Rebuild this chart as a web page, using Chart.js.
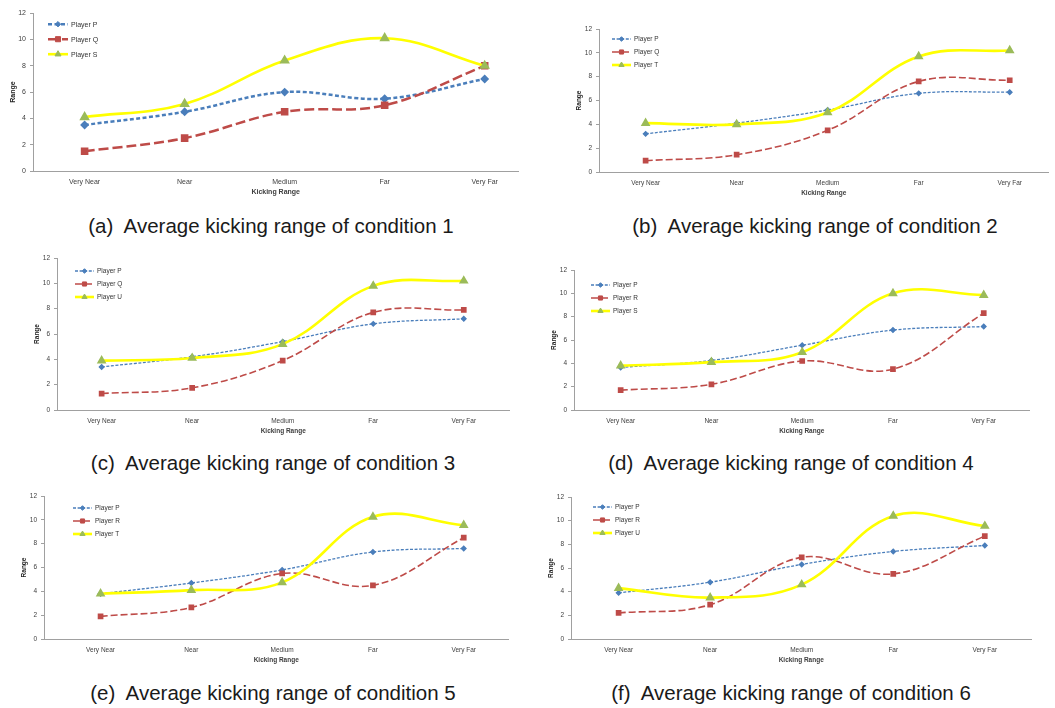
<!DOCTYPE html>
<html>
<head>
<meta charset="utf-8">
<script src="https://cdn.jsdelivr.net/npm/chart.js@4.4.1/dist/chart.umd.min.js"></script>
<style>
  body { margin: 0; background: #fff; width: 1055px; height: 708px; position: relative; overflow: hidden; }
  canvas { position: absolute; }
  .cap { position: absolute; font-family: "Liberation Sans", Arial, sans-serif; font-size: 20.5px; color: #1a1a1a;
         white-space: pre; transform: translate(-50%, -50%); }
</style>
</head>
<body>
<script>
// x categories shared by all six panels
const categories = ['Very Near', 'Near', 'Medium', 'Far', 'Very Far'];
const yMin = 0, yMax = 12, yStep = 2;

// condition 1
const c1Players = ['Player P', 'Player Q', 'Player S'];
const c1P = [3.5, 4.5, 6.0, 5.5, 7.0];
const c1Q = [1.5, 2.5, 4.5, 5.0, 8.0];
const c1S = [4.1, 5.1, 8.4, 10.1, 8.0];

// condition 2
const c2Players = ['Player P', 'Player Q', 'Player T'];
const c2P = [3.2, 4.1, 5.2, 6.6, 6.7];
const c2Q = [0.95, 1.45, 3.5, 7.6, 7.7];
const c2T = [4.1, 4.0, 5.0, 9.7, 10.2];

// condition 3
const c3Players = ['Player P', 'Player Q', 'Player U'];
const c3P = [3.4, 4.2, 5.4, 6.8, 7.2];
const c3Q = [1.3, 1.75, 3.9, 7.7, 7.9];
const c3U = [3.9, 4.1, 5.2, 9.8, 10.2];

// condition 4
const c4Players = ['Player P', 'Player R', 'Player S'];
const c4P = [3.65, 4.25, 5.55, 6.85, 7.15];
const c4R = [1.7, 2.2, 4.2, 3.5, 8.3];
const c4S = [3.8, 4.1, 4.95, 10.0, 9.85];

// condition 5
const c5Players = ['Player P', 'Player R', 'Player T'];
const c5P = [3.8, 4.7, 5.8, 7.3, 7.6];
const c5R = [1.9, 2.65, 5.5, 4.5, 8.5];
const c5T = [3.8, 4.1, 4.75, 10.25, 9.55];

// condition 6
const c6Players = ['Player P', 'Player R', 'Player U'];
const c6P = [3.9, 4.8, 6.3, 7.4, 7.9];
const c6R = [2.2, 2.9, 6.9, 5.5, 8.7];
const c6U = [4.3, 3.5, 4.6, 10.4, 9.55];

const captions = [
  '(a)  Average kicking range of condition 1',
  '(b)  Average kicking range of condition 2',
  '(c)  Average kicking range of condition 3',
  '(d)  Average kicking range of condition 4',
  '(e)  Average kicking range of condition 5',
  '(f)  Average kicking range of condition 6'
];

// plot box of each panel (axis left, value-12 top, value-0 bottom, axis right),
// x range in category units, legend spot, caption centre
const panels = [
  { names: c1Players, series: [c1P, c1Q, c1S], ax: 33, ty: 13, by: 171, rx: 522, xr: [-0.516, 4.337], lx: 15, ly: 11, lgap: 15, big: true, cx: 271, cy: 226 },
  { names: c2Players, series: [c2P, c2Q, c2T], ax: 599, ty: 29, by: 172, rx: 1052, xr: [-0.512, 4.425], lx: 13, ly: 10, lgap: 13, big: false, cx: 815, cy: 226 },
  { names: c3Players, series: [c3P, c3Q, c3U], ax: 57, ty: 258, by: 410, rx: 513, xr: [-0.493, 4.504], lx: 18, ly: 13, lgap: 13, big: false, cx: 273, cy: 463 },
  { names: c4Players, series: [c4P, c4R, c4S], ax: 574, ty: 270, by: 410, rx: 1033, xr: [-0.514, 4.503], lx: 17, ly: 15, lgap: 13, big: false, cx: 791, cy: 463 },
  { names: c5Players, series: [c5P, c5R, c5T], ax: 44, ty: 496, by: 639, rx: 512, xr: [-0.623, 4.492], lx: 29, ly: 12, lgap: 13, big: false, cx: 273, cy: 693 },
  { names: c6Players, series: [c6P, c6R, c6U], ax: 571, ty: 497, by: 639, rx: 1035, xr: [-0.520, 4.509], lx: 22, ly: 10, lgap: 13, big: false, cx: 791, cy: 693 }
];

const BLUE = '#4a7ebb', RED = '#be4b48', YELLOW = '#ffff00', GREEN = '#9bbb59';
const FONT = '"Liberation Sans", Arial, sans-serif';
const L = 32, T = 8, R = 3, B = 30;

// legend drawn inside the plot: line sample with marker, then the name
const playerLegend = {
  id: 'playerLegend',
  afterDraw(chart, args, opts) {
    const ctx = chart.ctx;
    const area = chart.chartArea;
    chart.data.datasets.forEach((ds, i) => {
      const x = area.left + opts.x;
      const y = area.top + opts.y + i * opts.gap;
      ctx.save();
      ctx.strokeStyle = ds.borderColor;
      ctx.lineWidth = ds.borderWidth;
      ctx.setLineDash(ds.borderDash || []);
      ctx.beginPath();
      ctx.moveTo(x, y);
      ctx.lineTo(x + opts.len, y);
      ctx.stroke();
      ctx.setLineDash([]);
      ctx.fillStyle = ds.pointBackgroundColor;
      ctx.strokeStyle = ds.pointBorderColor;
      ctx.lineWidth = 1;
      Chart.helpers.drawPoint(ctx, { pointStyle: ds.pointStyle, radius: ds.pointRadius, rotation: 0, borderWidth: 1 }, x + opts.len / 2, y);
      ctx.fillStyle = '#333';
      ctx.font = opts.fontSize + 'px ' + FONT;
      ctx.textBaseline = 'middle';
      ctx.textAlign = 'left';
      ctx.fillText(ds.label, x + opts.len + 3, y + 0.5);
      ctx.restore();
    });
  }
};

panels.forEach((p, idx) => {
  const canvas = document.createElement('canvas');
  const w = p.rx - p.ax + L + R;
  const h = p.by - p.ty + T + B;
  canvas.width = w;
  canvas.height = h;
  canvas.style.left = (p.ax - L) + 'px';
  canvas.style.top = (p.ty - T) + 'px';
  document.body.appendChild(canvas);

  const fs = p.big ? 7 : 6.5;
  const k = p.big ? 1 : 0;
  const tickFont = { family: FONT, size: fs };
  const titleFont = { family: FONT, size: fs, weight: 'bold' };
  const pts = arr => arr.map((v, i) => ({ x: i, y: v }));

  const datasets = [
    {
      label: p.names[0], data: pts(p.series[0]), order: 3,
      borderColor: BLUE, borderWidth: k ? 2.5 : 1.3, borderDash: k ? [4, 2.5] : [3, 1.6],
      pointStyle: 'rectRot', pointRadius: k ? 2.7 : 2.3,
      pointBackgroundColor: BLUE, pointBorderColor: BLUE
    },
    {
      label: p.names[1], data: pts(p.series[1]), order: 2,
      borderColor: RED, borderWidth: k ? 2.5 : 1.6, borderDash: k ? [10, 4] : [7, 3],
      pointStyle: 'rect', pointRadius: k ? 3.6 : 2.9,
      pointBackgroundColor: RED, pointBorderColor: RED
    },
    {
      label: p.names[2], data: pts(p.series[2]), order: 1,
      borderColor: YELLOW, borderWidth: 2.6,
      pointStyle: 'triangle', pointRadius: k ? 3.5 : 3.0,
      pointBackgroundColor: GREEN, pointBorderColor: GREEN
    }
  ];

  new Chart(canvas, {
    type: 'line',
    data: { datasets: datasets },
    options: {
      responsive: false,
      animation: false,
      devicePixelRatio: 1,
      layout: { padding: { top: T, right: R, left: 0, bottom: 0 } },
      elements: { line: { tension: 0.38, fill: false } },
      plugins: {
        legend: { display: false },
        tooltip: { enabled: false },
        playerLegend: { x: p.lx, y: p.ly, gap: p.lgap, len: k ? 20 : 19, fontSize: fs }
      },
      scales: {
        x: {
          type: 'linear',
          min: p.xr[0], max: p.xr[1],
          afterBuildTicks(s) { s.ticks = categories.map((c, i) => ({ value: i })); },
          grid: { display: false, drawTicks: false },
          border: { display: true, color: '#a0a0a0', width: 1 },
          ticks: { color: '#404040', font: tickFont, padding: 7, maxRotation: 0, autoSkip: false,
                   callback: v => categories[v] },
          title: { display: true, text: 'Kicking Range', color: '#404040', font: titleFont, padding: { top: 0, bottom: 4.5 } },
          afterFit(s) { s.height = B; }
        },
        y: {
          min: yMin, max: yMax,
          grid: { drawOnChartArea: false, drawTicks: true, tickLength: 3, color: '#a0a0a0' },
          border: { display: true, color: '#a0a0a0', width: 1 },
          ticks: { stepSize: yStep, color: '#404040', font: tickFont, padding: 4 },
          title: { display: true, text: 'Range', color: '#222', font: titleFont, padding: { top: 8, bottom: 0 } },
          afterFit(s) { s.width = L; }
        }
      }
    },
    plugins: [playerLegend]
  });

  const cap = document.createElement('div');
  cap.className = 'cap';
  cap.textContent = captions[idx];
  cap.style.left = p.cx + 'px';
  cap.style.top = p.cy + 'px';
  document.body.appendChild(cap);
});
</script>
</body>
</html>
